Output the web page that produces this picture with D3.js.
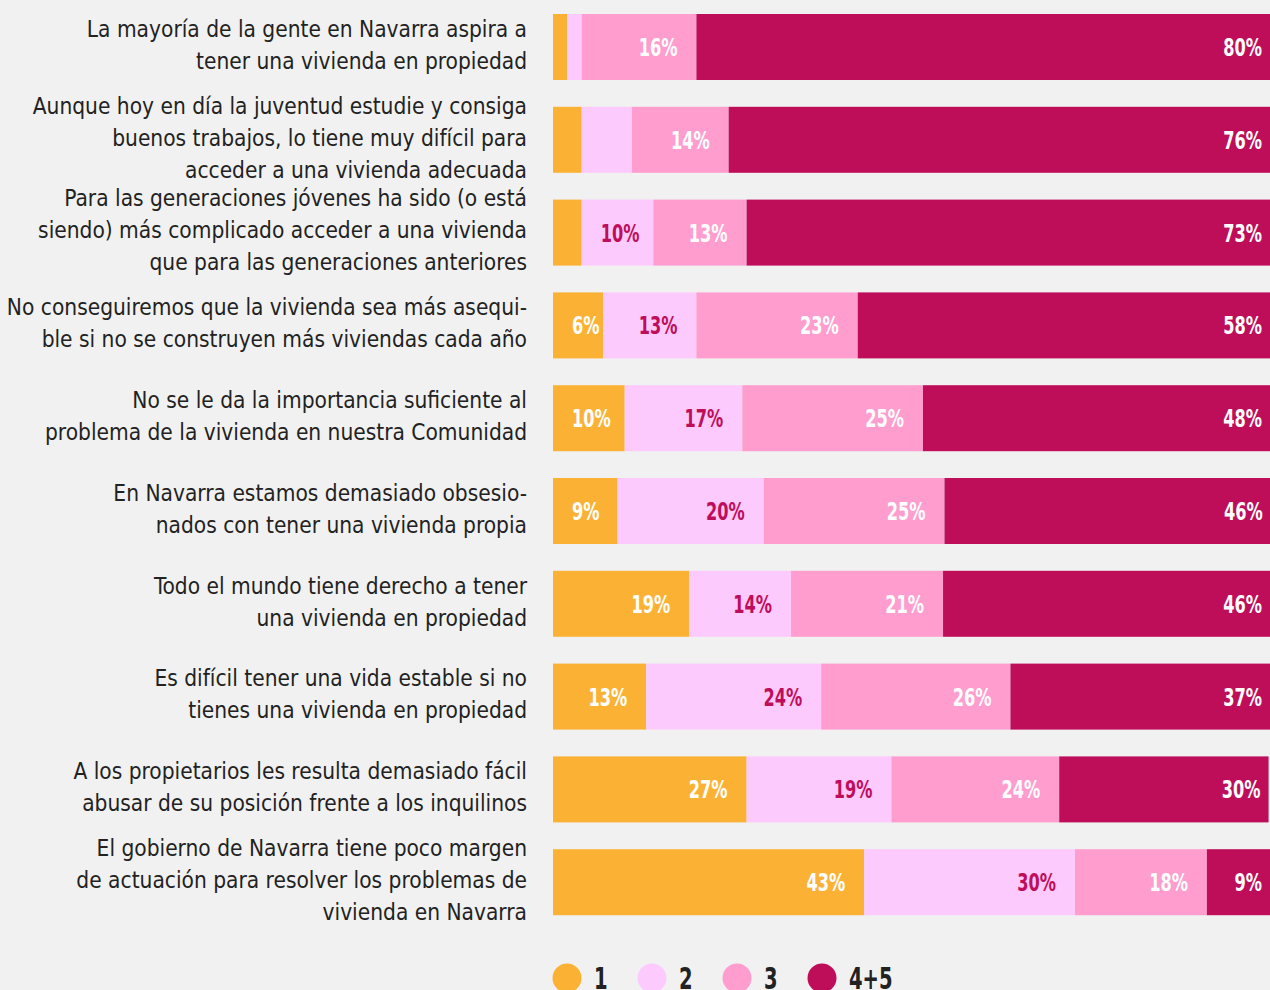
<!DOCTYPE html>
<html><head><meta charset="utf-8">
<script src="https://cdn.jsdelivr.net/npm/d3@7"></script>
<style>
html,body{margin:0;padding:0;background:#f1f1f1;}
svg{display:block;font-family:"DejaVu Sans Condensed","DejaVu Sans",sans-serif;font-stretch:condensed;}
.num{font-weight:bold;}
</style></head>
<body>
<svg id="chart" width="1270" height="990"></svg>
<script>
const categories = [
  "La mayoría de la gente en Navarra aspira a|tener una vivienda en propiedad",
  "Aunque hoy en día la juventud estudie y consiga|buenos trabajos, lo tiene muy difícil para|acceder a una vivienda adecuada",
  "Para las generaciones jóvenes ha sido (o está|siendo) más complicado acceder a una vivienda|que para las generaciones anteriores",
  "No conseguiremos que la vivienda sea más asequi-|ble si no se construyen más viviendas cada año",
  "No se le da la importancia suficiente al|problema de la vivienda en nuestra Comunidad",
  "En Navarra estamos demasiado obsesio-|nados con tener una vivienda propia",
  "Todo el mundo tiene derecho a tener|una vivienda en propiedad",
  "Es difícil tener una vida estable si no|tienes una vivienda en propiedad",
  "A los propietarios les resulta demasiado fácil|abusar de su posición frente a los inquilinos",
  "El gobierno de Navarra tiene poco margen|de actuación para resolver los problemas de|vivienda en Navarra"
];
const seriesNames = ["1", "2", "3", "4+5"];
const s1 = [2, 4, 4, 7, 10, 9, 19, 13, 27, 43.4];
const s2 = [2, 7, 10, 13, 16.4, 20.4, 14.2, 24.4, 20.2, 29.4];
const s3 = [16, 13.5, 13, 22.5, 25.2, 25.2, 21.2, 26.4, 23.4, 18.4];
const s45 = [80, 75.5, 73, 57.5, 48.4, 45.5, 45.6, 36.2, 29.2, 8.8];
const shownValues = [
  [null, null, 16, 80],
  [null, null, 14, 76],
  [null, 10, 13, 73],
  [6, 13, 23, 58],
  [10, 17, 25, 48],
  [9, 20, 25, 46],
  [19, 14, 21, 46],
  [13, 24, 26, 37],
  [27, 19, 24, 30],
  [43, 30, 18, 9]
];
const colors = ["#fbb234", "#fdcafe", "#fe9dce", "#be0e5a"];
const labelColors = ["#ffffff", "#be0e5a", "#ffffff", "#ffffff"];

const W = 1270, H = 990;
const svg = d3.select("#chart");
const series = [s1, s2, s3, s45];
const rows = categories.map((c, i) => {
  let acc = 0;
  return series.map((s, k) => { const x0 = acc; acc += s[i]; return {row: i, k, v: s[i], x0, x1: acc, label: shownValues[i][k]}; });
});

const x = d3.scaleLinear().domain([0, 100]).range([553, 1270]);
const y = d3.scaleBand().domain(d3.range(categories.length)).range([14, 915.2]).paddingInner(0.2888).paddingOuter(0);
const SQ = 0.72;

const g = svg.append("g");
const rowG = g.selectAll("g.row").data(rows).join("g").attr("class", "row");
rowG.selectAll("rect").data(d => d).join("rect")
  .attr("x", d => x(d.x0)).attr("width", d => x(d.x1) - x(d.x0))
  .attr("y", d => y(d.row)).attr("height", y.bandwidth())
  .attr("fill", d => colors[d.k]);

const vals = rowG.selectAll("text.val").data(d => d.filter(e => e.label !== null)).join("text")
  .attr("class", "val num")
  .attr("dy", "0.36em")
  .attr("text-anchor", "end")
  .attr("font-size", 25)
  .attr("fill", d => labelColors[d.k])
  .text(d => d.label + "%");
vals.each(function(d) {
  const w = this.getComputedTextLength() * SQ;
  const xe = d.k === 3 ? x(d.x1) - 8 : Math.max(x(d.x1) - 19, x(d.x0) + 19 + w);
  const yc = y(d.row) + y.bandwidth() / 2;
  d3.select(this).attr("transform", `translate(${xe},${yc}) scale(${SQ},1)`);
});

// category labels
const lh = 32;
g.selectAll("text.cat").data(categories).join("text")
  .attr("class", "cat")
  .attr("text-anchor", "end")
  .attr("font-size", 22.5).attr("fill", "#222")
  .each(function(c, i) {
    const lines = c.split("|");
    const cy = y(i) + y.bandwidth() / 2 - 2;
    const start = cy - (lines.length - 1) * lh / 2;
    d3.select(this).selectAll("tspan").data(lines).join("tspan")
      .attr("x", 527).attr("y", (l, j) => start + j * lh).attr("dy", "0.35em").text(l => l);
  });

// legend
const leg = svg.append("g").selectAll("g").data(seriesNames).join("g")
  .attr("transform", (d, i) => `translate(${567 + i * 85},978)`);
leg.append("circle").attr("r", 14.5).attr("fill", (d, i) => colors[i]);
leg.append("text").attr("class", "num").attr("transform", "translate(27,0) scale(0.7,1)")
  .attr("dy", "0.36em").attr("font-size", 31)
  .attr("fill", "#222").text(d => d);
</script>
</body></html>
